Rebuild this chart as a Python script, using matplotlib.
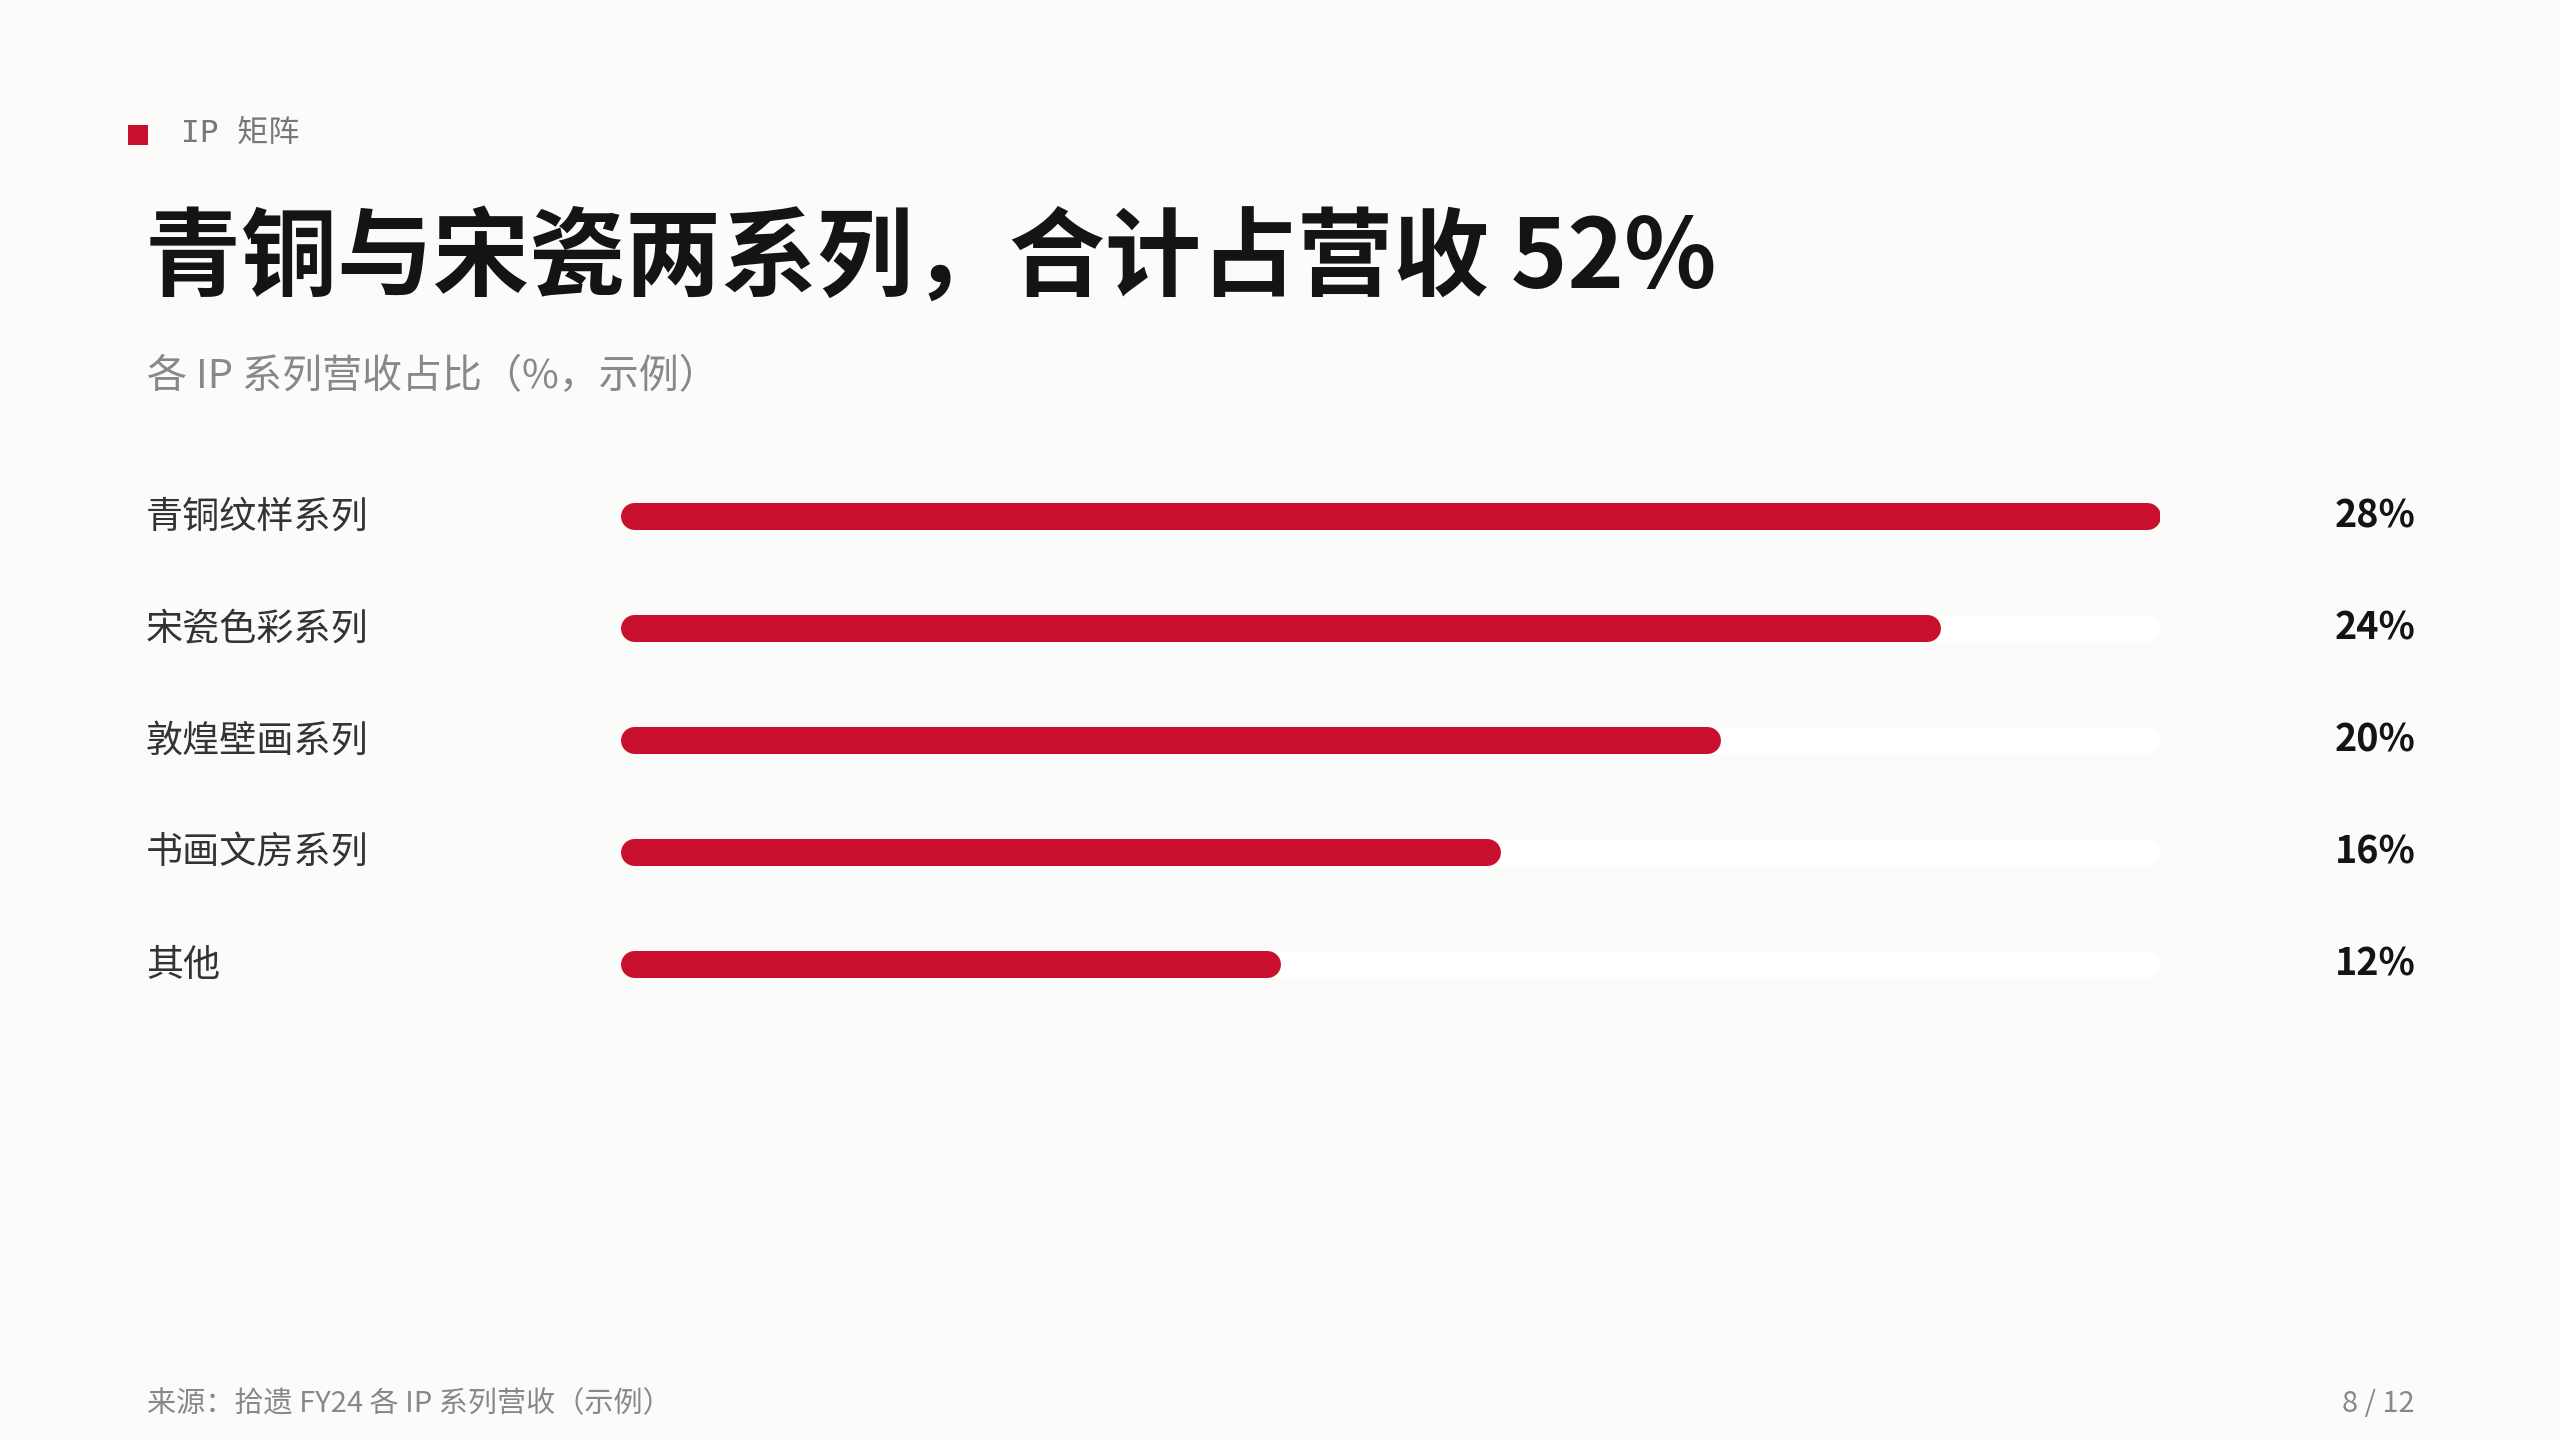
import matplotlib
matplotlib.use("Agg")
import matplotlib.pyplot as plt
from matplotlib.patches import Rectangle
from matplotlib.transforms import blended_transform_factory

plt.rcParams['font.family'] = ['Noto Sans CJK SC', 'DejaVu Sans']

# data
categories = ["青铜纹样系列", "宋瓷色彩系列", "敦煌壁画系列", "书画文房系列", "其他"]
shares = [28, 24, 20, 16, 12]
value_labels = ["28%", "24%", "20%", "16%", "12%"]

kicker = "IP 矩阵"
title = "青铜与宋瓷两系列，合计占营收 52%"
subtitle = "各 IP 系列营收占比（%，示例）"
source = "来源：拾遗 FY24 各 IP 系列营收（示例）"
page = "8 / 12"

RED = "#C8102E"
BG = "#FBFBF9"
W, H = 2560, 1440

fig = plt.figure(figsize=(16, 9), dpi=160, facecolor=BG)


def fy(px):
    return 1 - px / H


def fx(px):
    return px / W


# header
fig.patches.append(Rectangle((fx(128), fy(145)), 20 / W, 20 / H,
                             transform=fig.transFigure, color=RED, lw=0))
fig.text(fx(181), fy(133), kicker, fontsize=14, color="#777777", va="center",
         family=['DejaVu Sans Mono', 'Noto Sans CJK SC'])
fig.text(fx(145), fy(260), title, fontsize=43.2, fontweight="bold", color="#141414", va="center")
fig.text(fx(147), fy(377), subtitle, fontsize=18, color="#888888", va="center")

# bars
track_l, track_r = 620, 2160
row_top, row_bot = 516, 964
step = (row_bot - row_top) / (len(categories) - 1)
ax = fig.add_axes([fx(track_l), fy(row_bot + step / 2), (track_r - track_l) / W,
                   (row_bot - row_top + step) / H])
ax.set_facecolor("none")
ax.set_xlim(0, max(shares))
ax.set_ylim(len(categories) - 0.5, -0.5)
ax.axis("off")

bar_px = 27
lw = bar_px * 72 / fig.dpi
r = (bar_px / 2) / (track_r - track_l) * max(shares)
for i, v in enumerate(shares):
    ax.plot([r, max(shares) - r], [i, i], color="white", lw=lw, solid_capstyle="round")
    ax.plot([r, v - r], [i, i], color=RED, lw=lw, solid_capstyle="round")

tr = blended_transform_factory(fig.transFigure, ax.transData)
for i, (c, lab) in enumerate(zip(categories, value_labels)):
    ax.text(fx(146), i + 0.01, c, transform=tr, fontsize=16.7, color="#333333",
            va="center", ha="left")
    ax.text(fx(2416), i + 0.0, lab, transform=tr, fontsize=17, fontweight="bold",
            color="#141414", va="center", ha="right")

# footer
fig.text(fx(147), fy(1404), source, fontsize=13.1, color="#888888", va="center")
fig.text(fx(2415), fy(1404), page, fontsize=13, color="#888888", va="center", ha="right")

fig.savefig("out.png", dpi=160, facecolor=BG)
